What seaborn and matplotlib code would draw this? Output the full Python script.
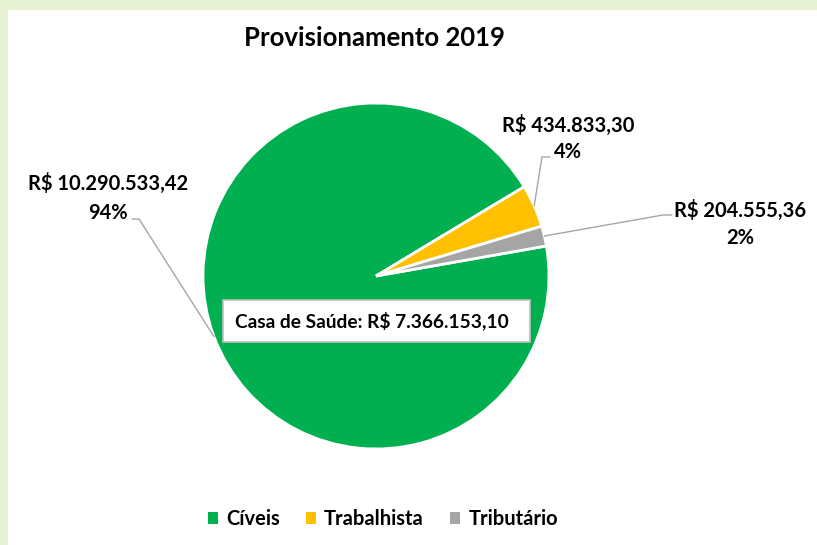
import numpy as np
import matplotlib.pyplot as plt
import seaborn as sns
from matplotlib.patches import Patch, Rectangle

# dados do gráfico
categorias = ['Cíveis', 'Trabalhista', 'Tributário']
valores = [10290533.42, 434833.30, 204555.36]
rotulos_valor = ['R$ 10.290.533,42', 'R$ 434.833,30', 'R$ 204.555,36']
rotulos_pct = ['94%', '4%', '2%']
cores = ['#00B050', '#FFC000', '#A5A5A5']
titulo = 'Provisionamento 2019'
nota = 'Casa de Saúde: R$ 7.366.153,10'

sns.set_theme(style='white')
plt.rcParams['font.family'] = ['Lato', 'DejaVu Sans']

W, H = 817, 545
fig = plt.figure(figsize=(W / 100, H / 100), dpi=100)
fig.patch.set_facecolor('#E6F0D2')
# area branca do gráfico
fig.add_artist(Rectangle((8 / W, 0), 1, 1 - 10 / H, transform=fig.transFigure,
                         facecolor='white', edgecolor='none', zorder=0))

# eixo em coordenadas de pixel (y para cima)
ax = fig.add_axes([0, 0, 1, 1])
ax.set_facecolor('none')

def py(y):
    return H - y

cx, cy, r = 376, py(276), 173
wedges, _ = ax.pie(valores, colors=sns.color_palette(cores), startangle=10,
                   counterclock=False, radius=r, center=(cx, cy),
                   wedgeprops=dict(edgecolor='white', linewidth=2))
ax.set_xlim(0, W)
ax.set_ylim(0, H)
ax.set_aspect('equal')
ax.axis('off')

# posições dos rótulos (texto) e cotovelo da linha guia
pos_texto = [(108, 183, 213), (568, 125, 152), (740, 210, 238)]
cotovelos = [[(132, 219), (139, 219)], [(550, 157), (542, 157)], [(672, 215), (663, 215)]]
fs = 14.5
for w, val, pct, (tx, ty1, ty2), cot in zip(wedges, rotulos_valor, rotulos_pct, pos_texto, cotovelos):
    ang = np.deg2rad((w.theta1 + w.theta2) / 2)
    ex, ey = cx + r * np.cos(ang), cy + r * np.sin(ang)
    xs = [p[0] for p in cot] + [ex]
    ys = [py(p[1]) for p in cot] + [ey]
    ax.plot(xs, ys, color='#A6A6A6', lw=1)
    ax.text(tx, py(ty1), val, ha='center', va='center', fontsize=fs, fontweight='bold', color='black')
    ax.text(tx, py(ty2), pct, ha='center', va='center', fontsize=fs, fontweight='bold', color='black')

# caixa de nota
ax.add_patch(Rectangle((223, py(342)), 307, 42, facecolor='white', edgecolor='#BFBFBF', lw=1.2))
ax.text(372, py(321), nota, ha='center', va='center', fontsize=13.8, fontweight='bold', color='black')

ax.text(375, py(38), titulo, ha='center', va='center', fontsize=18.5, fontweight='bold', color='black')

handles = [Patch(facecolor=c, edgecolor='none', label=l) for c, l in zip(cores, categorias)]
leg = fig.legend(handles=handles, loc='center', bbox_to_anchor=(383 / W, 1 - 519 / H), ncol=3,
                 frameon=False, handlelength=0.5, handleheight=0.5, handletextpad=0.4,
                 columnspacing=1.3, prop=dict(size=14.5, weight='bold'))
for t in leg.get_texts():
    t.set_color('black')

fig.savefig('out.png', dpi=100)
